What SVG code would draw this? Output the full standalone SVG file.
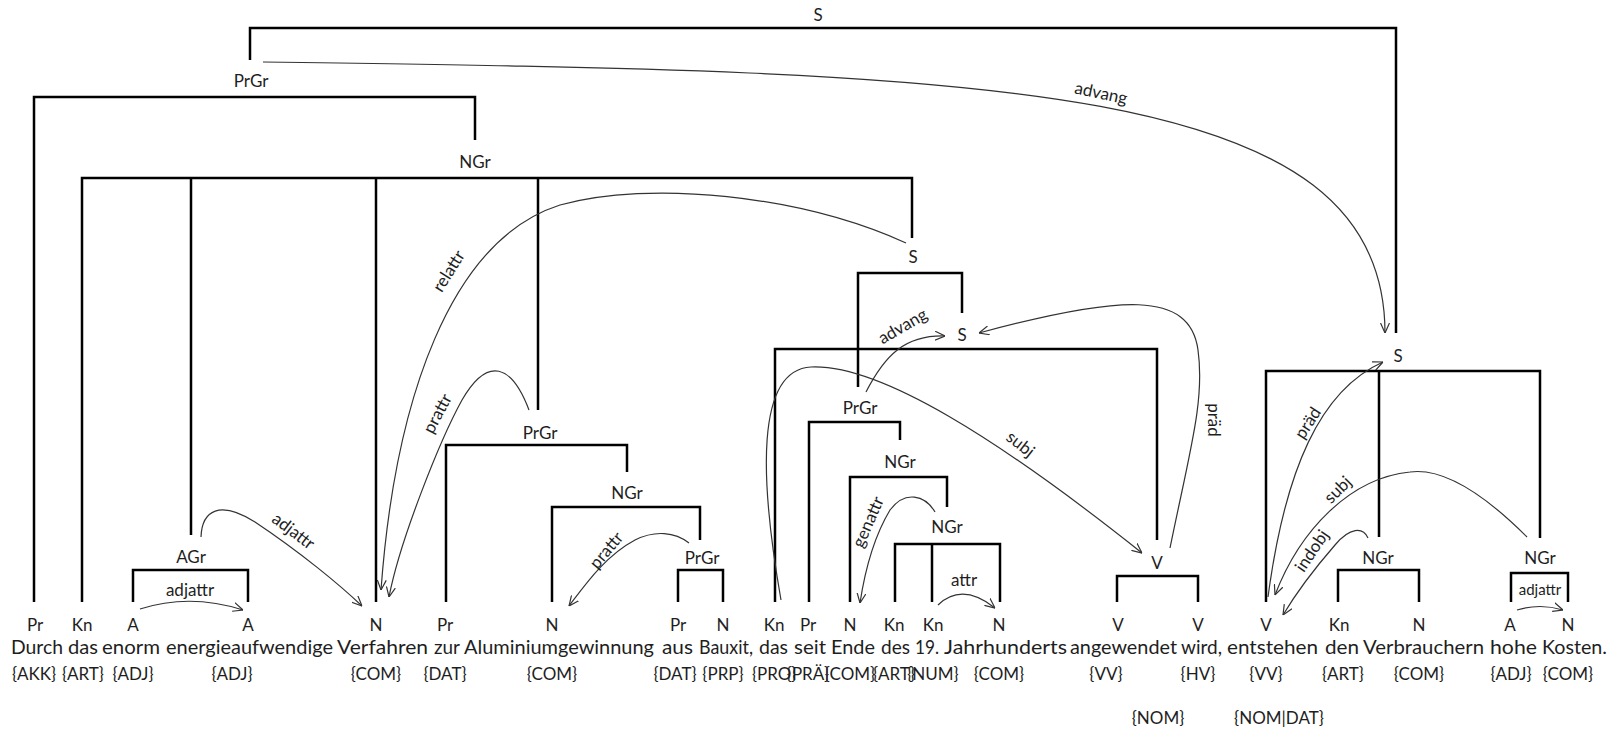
<svg xmlns="http://www.w3.org/2000/svg" width="1611" height="730" viewBox="0 0 1611 730">
<defs>
<marker id="ah" viewBox="0 0 10 10" refX="10" refY="5" markerWidth="10" markerHeight="10" markerUnits="userSpaceOnUse" orient="auto">
<path d="M0,0.5 L10,5 L0,9.5" fill="none" stroke="#333" stroke-width="1.2"/>
</marker>
<style>
text{font-family:Lato,"Open Sans","Liberation Sans",sans-serif;fill:#1e1e1e}
.w{font-size:20px}
.c{font-size:17px;text-anchor:middle}
.g{font-size:17px;text-anchor:middle}
.e{font-size:17px;text-anchor:middle}
.tree{fill:none;stroke:#000;stroke-width:2.5;stroke-linejoin:miter}
.arc{fill:none;stroke:#333;stroke-width:1.2}
.arr{marker-end:url(#ah)}
</style>
</defs>
<rect width="1611" height="730" fill="#fff"/>

<g id="connectors">
<g id="tree-edges" class="tree">
<path d="M250,60 V28 H1396 V333"/>
<path d="M475,140 V97 H34 V602"/>
<path d="M82,602 V178 H912 V238 M191,178 V535 M376,178 V602 M538,178 V410"/>
<path d="M446,602 V445 H627 V472"/>
<path d="M552,602 V507 H700 V540"/>
<path d="M678,602 V570 H723 V602"/>
<path d="M133,602 V570 H248 V602"/>
<path d="M858,387 V273 H962 V313"/>
<path d="M775,602 V349 H1157 V540"/>
<path d="M809,602 V422 H900 V440"/>
<path d="M850,602 V477 H947 V507"/>
<path d="M895,602 V544 H1000 V602 M932,544 V602"/>
<path d="M1117,602 V576 H1198 V602"/>
<path d="M1266,602 V371 H1540 V538 M1379,371 V537"/>
<path d="M1338,602 V570 H1419 V602"/>
<path d="M1511,602 V573 H1568 V602"/>
</g>
<g id="dependencies" class="arc">
<path class="arr" d="M263,62 C1000,72 1385,80 1385,333"/>
<path class="arr" d="M906,243 C800,195 650,180 560,205 C450,240 395,400 381,590"/>
<path class="arr" d="M529,410 C512,365 488,355 462,400 C440,440 400,540 389,597"/>
<path class="arr" d="M201,537 C202,510 220,500 255,522 C300,552 340,585 362,606"/>
<path class="arr" d="M140,609 Q190,593 243,610"/>
<path class="arr" d="M689,543 C675,532 655,530 635,540 C605,556 585,585 569,606"/>
<path class="arr" d="M935,512 C925,495 905,490 890,510 C875,535 865,570 860,603"/>
<path class="arr" d="M938,605 Q962,582 995,608"/>
<path class="arr" d="M781,600 C760,480 755,370 811,367 C880,364 1000,440 1142,553"/>
<path class="arr" d="M866,392 C885,355 905,335 945,336"/>
<path class="arr" d="M1170,548 C1190,450 1205,400 1198,350 C1190,290 1120,295 979,333"/>
<path class="arr" d="M1268,597 C1285,470 1320,390 1383,362"/>
<path class="arr" d="M1527,537 C1480,490 1440,468 1410,472 C1350,478 1300,530 1275,595"/>
<path class="arr" d="M1368,538 C1363,527 1350,527 1335,545 C1315,568 1295,595 1283,615"/>
<path class="arr" d="M1517,610 Q1540,603 1563,610"/>
</g>
<g id="dependency-labels">
<text class="e" transform="translate(1101,93) rotate(12)" dy="0.35em">advang</text>
<text class="e" transform="translate(455,275) rotate(-58)" dy="-0.1em">relattr</text>
<text class="e" transform="translate(444,417) rotate(-62)" dy="-0.1em">prattr</text>
<text class="e" transform="translate(289,537) rotate(37)" dy="-0.1em">adjattr</text>
<text class="e" transform="translate(612,555) rotate(-50)" dy="-0.1em">prattr</text>
<text class="e" transform="translate(190,590)" dy="0.35em">adjattr</text>
<text class="e" transform="translate(964,580)" dy="0.35em">attr</text>
<text class="e" transform="translate(875,525) rotate(-66)" dy="-0.1em">genattr</text>
<text class="e" transform="translate(906,332) rotate(-30)" dy="-0.05em">advang</text>
<text class="e" transform="translate(1016,450) rotate(38)" dy="-0.1em">subj</text>
<text class="e" transform="translate(1211,420) rotate(90)" dy="0.2em">präd</text>
<text class="e" transform="translate(1314,427) rotate(-57)" dy="-0.1em">präd</text>
<text class="e" transform="translate(1343,495) rotate(-45)" dy="-0.1em">subj</text>
<text class="e" transform="translate(1318,555) rotate(-56)" dy="-0.1em">indobj</text>
<text class="e" transform="translate(1540,590)" dy="0.35em" style="font-size:15px">adjattr</text>
</g>
</g>

<g id="phrase-nodes">
<g id="n-S-top"><text class="g" x="818" y="21">S</text></g>
<g id="n-PrGr-1"><text class="g" x="251" y="87">PrGr</text></g>
<g id="n-NGr-1"><text class="g" x="475" y="168">NGr</text></g>
<g id="n-S-rel"><text class="g" x="913" y="263">S</text></g>
<g id="n-S-rel2"><text class="g" x="962" y="341">S</text></g>
<g id="n-PrGr-seit"><text class="g" x="860" y="414">PrGr</text></g>
<g id="n-NGr-ende"><text class="g" x="900" y="468">NGr</text></g>
<g id="n-NGr-jh"><text class="g" x="947" y="533">NGr</text></g>
<g id="n-V-1"><text class="g" x="1157" y="569">V</text></g>
<g id="n-PrGr-zur"><text class="g" x="540" y="439">PrGr</text></g>
<g id="n-NGr-alu"><text class="g" x="627" y="499">NGr</text></g>
<g id="n-PrGr-aus"><text class="g" x="702" y="564">PrGr</text></g>
<g id="n-AGr"><text class="g" x="191" y="563">AGr</text></g>
<g id="n-S-main"><text class="g" x="1398" y="362">S</text></g>
<g id="n-NGr-verb"><text class="g" x="1378" y="564">NGr</text></g>
<g id="n-NGr-kosten"><text class="g" x="1540" y="564">NGr</text></g>
</g>

<g id="tokens">
<g id="t1"><text class="c" x="35" y="631">Pr</text><text class="w" x="11" y="654" textLength="52" lengthAdjust="spacingAndGlyphs">Durch</text><text class="c" x="34" y="680">{AKK}</text></g>
<g id="t2"><text class="c" x="82" y="631">Kn</text><text class="w" x="68" y="654" textLength="30" lengthAdjust="spacingAndGlyphs">das</text><text class="c" x="83" y="680">{ART}</text></g>
<g id="t3"><text class="c" x="133" y="631">A</text><text class="w" x="102" y="654" textLength="58" lengthAdjust="spacingAndGlyphs">enorm</text><text class="c" x="133" y="680">{ADJ}</text></g>
<g id="t4"><text class="c" x="248" y="631">A</text><text class="w" x="166" y="654" textLength="167" lengthAdjust="spacingAndGlyphs">energieaufwendige</text><text class="c" x="232" y="680">{ADJ}</text></g>
<g id="t5"><text class="c" x="376" y="631">N</text><text class="w" x="337" y="654" textLength="91" lengthAdjust="spacingAndGlyphs">Verfahren</text><text class="c" x="376" y="680">{COM}</text></g>
<g id="t6"><text class="c" x="445" y="631">Pr</text><text class="w" x="434" y="654" textLength="26" lengthAdjust="spacingAndGlyphs">zur</text><text class="c" x="445" y="680">{DAT}</text></g>
<g id="t7"><text class="c" x="552" y="631">N</text><text class="w" x="464" y="654" textLength="190" lengthAdjust="spacingAndGlyphs">Aluminiumgewinnung</text><text class="c" x="552" y="680">{COM}</text></g>
<g id="t8"><text class="c" x="678" y="631">Pr</text><text class="w" x="662" y="654" textLength="31" lengthAdjust="spacingAndGlyphs">aus</text><text class="c" x="675" y="680">{DAT}</text></g>
<g id="t9"><text class="c" x="723" y="631">N</text><text class="w" x="699" y="654" textLength="54" lengthAdjust="spacingAndGlyphs">Bauxit,</text><text class="c" x="723" y="680">{PRP}</text></g>
<g id="t10"><text class="c" x="774" y="631">Kn</text><text class="w" x="759" y="654" textLength="29" lengthAdjust="spacingAndGlyphs">das</text><text class="c" x="774" y="680">{PRO}</text></g>
<g id="t11"><text class="c" x="808" y="631">Pr</text><text class="w" x="794" y="654" textLength="32" lengthAdjust="spacingAndGlyphs">seit</text><text class="c" x="808" y="680">{PRÄ}</text></g>
<g id="t12"><text class="c" x="850" y="631">N</text><text class="w" x="831" y="654" textLength="44" lengthAdjust="spacingAndGlyphs">Ende</text><text class="c" x="850" y="680">{COM}</text></g>
<g id="t13"><text class="c" x="894" y="631">Kn</text><text class="w" x="881" y="654" textLength="29" lengthAdjust="spacingAndGlyphs">des</text><text class="c" x="894" y="680">{ART}</text></g>
<g id="t14"><text class="c" x="933" y="631">Kn</text><text class="w" x="915" y="654" textLength="24" lengthAdjust="spacingAndGlyphs">19.</text><text class="c" x="933" y="680">{NUM}</text></g>
<g id="t15"><text class="c" x="999" y="631">N</text><text class="w" x="944" y="654" textLength="123" lengthAdjust="spacingAndGlyphs">Jahrhunderts</text><text class="c" x="999" y="680">{COM}</text></g>
<g id="t16"><text class="c" x="1118" y="631">V</text><text class="w" x="1070" y="654" textLength="107" lengthAdjust="spacingAndGlyphs">angewendet</text><text class="c" x="1106" y="680">{VV}</text></g>
<g id="t17"><text class="c" x="1198" y="631">V</text><text class="w" x="1181" y="654" textLength="41" lengthAdjust="spacingAndGlyphs">wird,</text><text class="c" x="1198" y="680">{HV}</text><text class="c" x="1158" y="724">{NOM}</text></g>
<g id="t18"><text class="c" x="1266" y="631">V</text><text class="w" x="1227" y="654" textLength="91" lengthAdjust="spacingAndGlyphs">entstehen</text><text class="c" x="1266" y="680">{VV}</text><text class="c" x="1279" y="724">{NOM|DAT}</text></g>
<g id="t19"><text class="c" x="1339" y="631">Kn</text><text class="w" x="1325" y="654" textLength="34" lengthAdjust="spacingAndGlyphs">den</text><text class="c" x="1343" y="680">{ART}</text></g>
<g id="t20"><text class="c" x="1419" y="631">N</text><text class="w" x="1363" y="654" textLength="121" lengthAdjust="spacingAndGlyphs">Verbrauchern</text><text class="c" x="1419" y="680">{COM}</text></g>
<g id="t21"><text class="c" x="1510" y="631">A</text><text class="w" x="1490" y="654" textLength="47" lengthAdjust="spacingAndGlyphs">hohe</text><text class="c" x="1511" y="680">{ADJ}</text></g>
<g id="t22"><text class="c" x="1568" y="631">N</text><text class="w" x="1542" y="654" textLength="65" lengthAdjust="spacingAndGlyphs">Kosten.</text><text class="c" x="1568" y="680">{COM}</text></g>
</g>
</svg>
